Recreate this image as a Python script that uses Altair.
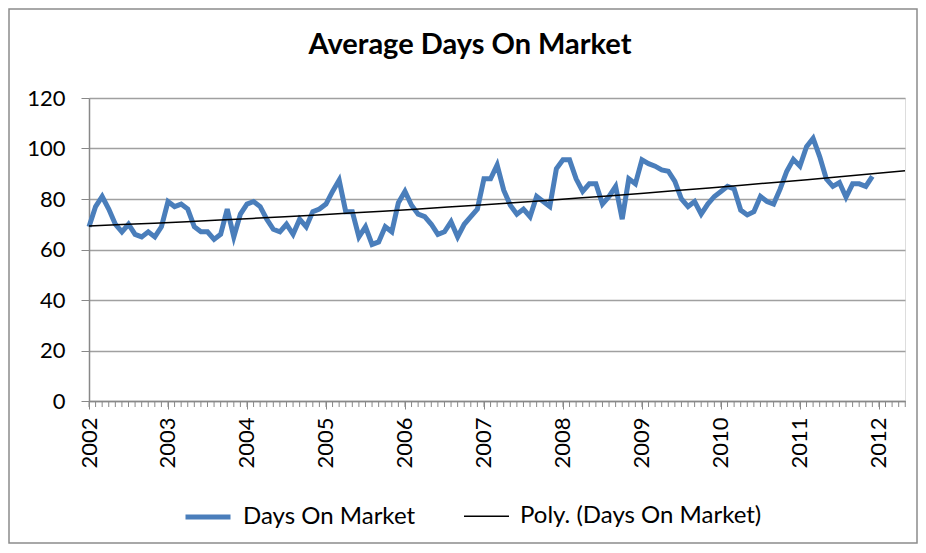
import altair as alt
import pandas as pd

# Monthly average days on market, Jan 2002 - Dec 2011
start_year = 2002
days_2002 = [69, 77, 81, 76, 70, 67, 70, 66, 65, 67, 65, 69]
days_2003 = [79, 77, 78, 76, 69, 67, 67, 64, 66, 76, 65, 74]
days_2004 = [78, 79, 77, 72, 68, 67, 70, 66, 72, 69, 75, 76]
days_2005 = [78, 83, 87.5, 75, 75, 65, 69, 62, 63, 69, 67, 78.5]
days_2006 = [83, 77.5, 74, 73, 70, 66, 67, 71, 65, 70, 73, 76]
days_2007 = [88, 88, 93.5, 83.5, 77.5, 74, 76, 73, 81, 79, 77, 92]
days_2008 = [95.5, 95.5, 88, 83, 86, 86, 78, 81, 85, 72, 88, 86]
days_2009 = [95.5, 94, 93, 91.5, 91, 87, 80, 77, 79, 74, 78, 81]
days_2010 = [83, 85, 84, 75.6, 73.7, 75, 81, 79, 78, 84, 91, 95.7]
days_2011 = [93, 100.7, 104, 96.8, 88, 85, 86.5, 80.7, 86, 86, 85, 89]

year_labels = [2002, 2003, 2004, 2005, 2006, 2007, 2008, 2009, 2010, 2011, 2012]
y_ticks = [0, 20, 40, 60, 80, 100, 120]
series_names = ["Days On Market", "Poly. (Days On Market)"]
series_colors = ["#4A7EBB", "#000000"]
series_widths = [5, 1.5]

all_days = (days_2002 + days_2003 + days_2004 + days_2005 + days_2006 +
            days_2007 + days_2008 + days_2009 + days_2010 + days_2011)
df = pd.DataFrame({
    "x": [start_year + i / 12 for i in range(len(all_days))],
    "value": all_days,
    "series": series_names[0],
})

x_end = 2012.33
month_ticks = pd.DataFrame({"tx": [start_year + i / 12 for i in range(125)]})

FONT = "Lato"
W, H = 816, 303

x_scale = alt.Scale(domain=[2002, x_end], nice=False, zero=False)
y_scale = alt.Scale(domain=[0, 120], nice=False)
color_scale = alt.Scale(domain=series_names, range=series_colors)
width_scale = alt.Scale(domain=series_names, range=series_widths)

legend = alt.Legend(
    title=None, orient="none", legendX=94, legendY=394, direction="horizontal",
    symbolType="stroke", symbolSize=2025, labelFont=FONT, labelFontSize=24,
    labelColor="#000", labelOffset=10, columnPadding=45, labelLimit=400,
)

x_axis = alt.Axis(
    values=year_labels, format="d", labelAngle=-90, labelAlign="right",
    labelBaseline="middle", labelFont=FONT, labelFontSize=22, labelColor="#000",
    tickSize=8, tickColor="#888", domainColor="#888", domainWidth=1.5,
    labelPadding=8, grid=False, title=None,
)
y_axis = alt.Axis(
    values=y_ticks, labelFont=FONT, labelFontSize=22, labelColor="#000",
    tickSize=8, tickColor="#888", domainColor="#888", domainWidth=1.5,
    gridColor="#a0a0a0", gridWidth=1.5, labelPadding=16, title=None,
)

line = alt.Chart(df).mark_line().encode(
    x=alt.X("x:Q", scale=x_scale, axis=x_axis),
    y=alt.Y("value:Q", scale=y_scale, axis=y_axis),
    color=alt.Color("series:N", scale=color_scale, legend=legend),
    strokeWidth=alt.StrokeWidth("series:N", scale=width_scale, legend=legend),
)

trend = alt.Chart(df).transform_regression(
    "x", "value", method="poly", order=2, extent=[2002, x_end]
).transform_calculate(
    series="'Poly. (Days On Market)'"
).mark_line().encode(
    x=alt.X("x:Q", scale=x_scale),
    y=alt.Y("value:Q", scale=y_scale),
    color=alt.Color("series:N", scale=color_scale, legend=legend),
    strokeWidth=alt.StrokeWidth("series:N", scale=width_scale, legend=legend),
)

minor = alt.Chart(month_ticks).mark_rule(color="#888", strokeWidth=1).encode(
    x=alt.X("tx:Q", scale=x_scale),
    y=alt.value(H),
    y2=alt.value(H + 6),
)

frame = alt.Chart(pd.DataFrame({"a": [0]})).mark_rect(
    fillOpacity=0, stroke="#8c8c8c", strokeWidth=1.5
).encode(
    x=alt.value(-80), x2=alt.value(W + 12),
    y=alt.value(-89), y2=alt.value(H + 142),
)

chart = alt.layer(frame, minor, line, trend).properties(
    width=W, height=H,
    title=alt.TitleParams(
        "Average Days On Market", font=FONT, fontSize=29, fontWeight="bold",
        color="#000", dx=-27, offset=-75, baseline="alphabetic",
        frame="group", anchor="middle",
    ),
    autosize=alt.AutoSizeParams(type="none"),
    padding={"left": 81, "top": 90, "right": 13, "bottom": 144},
).configure_view(stroke=None).configure(background="white")

chart.save("out.html", embed_options={"renderer": "svg", "actions": False})
